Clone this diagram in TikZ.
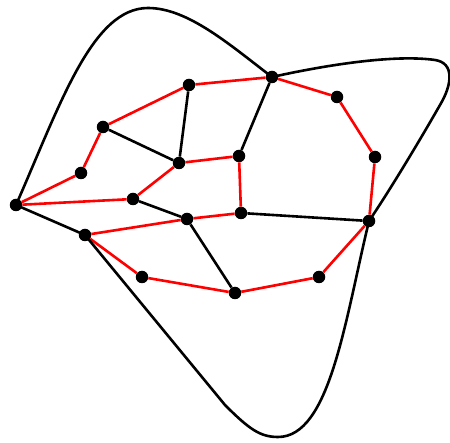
\documentclass[tikz,border=0pt]{standalone}
\begin{document}
\begin{tikzpicture}[x=1pt,y=-1pt,
  dot/.style={circle,fill=black,inner sep=0pt,minimum size=12.5pt},
  redge/.style={draw=red,line width=2.6pt},
  bedge/.style={draw=black,line width=2.6pt},
  outer/.style={draw=black,line width=2.6pt,line join=round}]
\useasboundingbox (0,0) rectangle (450,443);
\node[dot] (A) at (16,205) {};
\node[dot] (B) at (81,173) {};
\node[dot] (C) at (103,127) {};
\node[dot] (D) at (189,85) {};
\node[dot] (E) at (272,77) {};
\node[dot] (F) at (337,97) {};
\node[dot] (G) at (375,157) {};
\node[dot] (H) at (369,221) {};
\node[dot] (I) at (319,277) {};
\node[dot] (J) at (235,293) {};
\node[dot] (K) at (142,277) {};
\node[dot] (L) at (85,235) {};
\node[dot] (M) at (133,199) {};
\node[dot] (N) at (179,163) {};
\node[dot] (O) at (239,156) {};
\node[dot] (P) at (241,213) {};
\node[dot] (Q) at (187,219) {};
% red edges
\foreach \u/\v in {A/B,B/C,C/D,D/E,E/F,F/G,G/H,H/I,I/J,J/K,K/L,L/Q,Q/P,A/M,M/N,N/O,O/P}
  \path[redge] (\u) -- (\v);
% black edges
\foreach \u/\v in {C/N,D/N,E/O,M/Q,Q/J,P/H}
  \path[bedge] (\u) -- (\v);
% outer curve
\path[outer] (A.center) .. controls (60,105) and (92,8) .. (148,8)
  .. controls (188,8) and (230,45) .. (E.center)
  .. controls (340,62) and (400,55) .. (435,60)
  .. controls (455,63) and (452,85) .. (440,105)
  .. controls (420,140) and (390,190) .. (H.center)
  .. controls (345,320) and (330,437) .. (278,437)
  .. controls (260,437) and (249,429) .. (225,405)
  -- (L.center) -- cycle;
\end{tikzpicture}
\end{document}
